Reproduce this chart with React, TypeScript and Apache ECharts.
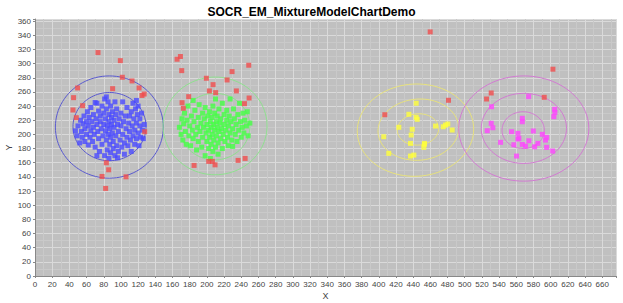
import React, { useEffect, useRef } from "react";
import * as echarts from "echarts";

const TITLE = "SOCR_EM_MixtureModelChartDemo";
const X_MAX = 676;
const Y_MAX = 363;

const blueData: number[][] = [
  [47,205],[49,198],[50,212],[52,188],[53,220],[54,204],[55,196],[56,215],[57,226],[58,208],[58,190],[60,200],[60,218],[61,232],[62,212],[62,185],[63,224],[64,196],[65,205],[65,238],[66,218],[67,190],[68,228],[68,210],[69,200],[70,245],[70,182],[71,222],[72,214],[72,170],[73,204],[74,233],[74,194],[75,176],[76,218],[76,226],[77,208],[78,186],[78,240],[79,198],[80,230],[80,214],[81,170],[81,250],[82,205],[82,222],[83,192],[83,236],[84,212],[84,178],[85,246],[85,200],[86,228],[86,218],[87,186],[87,208],[88,196],[88,240],[88,174],[89,224],[89,214],[90,202],[90,232],[91,180],[91,190],[92,220],[92,210],[93,246],[93,170],[94,228],[94,198],[95,184],[95,236],[96,214],[97,204],[97,176],[98,222],[99,192],[100,230],[100,212],[101,182],[102,246],[102,200],[103,218],[104,188],[104,172],[105,226],[106,208],[107,238],[107,196],[108,184],[109,216],[110,226],[110,204],[111,192],[112,232],[112,176],[113,212],[114,244],[114,198],[115,222],[116,186],[116,206],[117,236],[118,216],[118,194],[119,228],[120,202],[120,240],[121,184],[122,212],[122,222],[123,196],[124,230],[125,206],[126,194],[127,214],[83,253],[72,244],[118,248],[96,167],[86,166]
];

const greenData: number[][] = [
  [168,210],[170,200],[171,222],[172,192],[173,215],[174,230],[175,204],[176,186],[177,220],[178,240],[179,198],[180,212],[181,184],[182,226],[183,206],[184,248],[184,194],[185,218],[186,234],[187,200],[188,178],[189,210],[190,224],[190,190],[191,242],[192,204],[193,216],[194,182],[195,230],[195,196],[196,210],[197,222],[198,170],[198,238],[199,202],[200,190],[200,214],[201,226],[202,180],[202,206],[203,196],[203,232],[204,166],[204,218],[205,210],[205,186],[206,224],[206,200],[207,240],[207,176],[208,214],[208,192],[209,206],[209,230],[210,250],[210,182],[211,218],[211,198],[212,210],[212,226],[213,188],[213,172],[214,204],[214,236],[215,216],[216,194],[216,222],[217,208],[218,180],[218,244],[219,200],[220,228],[220,214],[221,190],[222,206],[223,234],[223,220],[224,196],[225,184],[225,212],[226,226],[227,250],[227,202],[228,218],[229,192],[230,208],[230,183],[231,236],[232,222],[233,200],[234,214],[235,190],[236,228],[237,206],[238,244],[239,218],[240,196],[241,210],[242,230],[243,202],[244,220],[246,212],[247,232],[248,198],[250,216]
];

const yellowData: number[][] = [
  [443.5,244],[435,228.4],[443.5,224.1],[444.7,221.3],[423.3,210],[438.9,207.2],[437.7,199.1],[405.8,196.7],[436.9,187.3],[453.2,187.3],[452.4,181.7],[411.6,173.2],[436.9,169.4],[440.8,170.8],[466,211.8],[475,210.8],[477.6,213.2],[480.3,214.7],[485.4,206.2],[453,186]
];

const magentaData: number[][] = [
  [574.3,253.3],[604.6,235.5],[603.7,225],[604.9,231],[531.2,239.1],[530.8,215.7],[532.7,209.4],[526.2,205.2],[567,222.7],[567,217.9],[554.5,203.8],[561.9,201.5],[579.8,204.8],[590.3,200.1],[595.3,195.8],[541.7,188.8],[557.2,185.4],[563,194.4],[574.6,191],[567,185.9],[570.8,183.5],[581.3,182.5],[585.1,187.3],[595.3,181.7],[602.3,176.5],[560.3,169.4],[561.9,193.4],[594,192]
];

const redData: number[][] = [
  [73.3,315.6],[99.3,304.2],[101.6,280.7],[112.9,275.5],[90.3,264.6],[121.1,265.6],[124.5,255],[127,257],[49.6,265.6],[44.9,251.9],[55.4,240.6],[44.2,234.5],[48.1,223.6],[127.6,203.8],
  [83,159.9],[85.7,150],[78,140.6],[105.9,140.1],[82.2,123.7],
  [185.1,156.2],[202.1,161.9],[206.4,161.9],[209.5,157],[236.3,163.3],[244.5,166.1],
  [165.3,306.2],[169.2,310],[170.7,290.1],[199.4,279.3],[207.2,270.3],[202.9,261.4],[210.2,259],[223.5,276.9],[229.3,288.7],[234.3,261.4],[248.7,297.7],[249.1,251.4],[243.7,243.4],[178.8,253.3],[171.1,244.8],[172.6,236.9],
  [459.8,344.8],[481.1,248.2],[407,227.8],[602.6,292.1],[530.8,258.5],[525.4,250],[592.5,252.4]
];

// ellipse contours: [cx, cy, rx, ry, angleDeg]
const blueEllipses: number[][] = [[86.5, 210.4, 62.8, 72.2, 0], [86.7, 211, 42.5, 48.2, 0]];
const greenEllipses: number[][] = [[209.5, 212, 60.5, 69, 0], [209, 211, 41, 47, 0]];
const yellowEllipses: number[][] = [[442.7, 206, 67.9, 65, 15], [446, 206.7, 47.2, 43, 15], [445.6, 207, 24.2, 22, 15]];
const magentaEllipses: number[][] = [[568.7, 208.3, 75.7, 74.3, 0], [568.8, 208.5, 49.6, 49.5, 0], [568, 206, 24.6, 26, 0]];

function contour(e: number[]): number[][] {
  const [cx, cy, rx, ry, ang] = e;
  const a = (ang * Math.PI) / 180;
  const pts: number[][] = [];
  for (let i = 0; i <= 96; i++) {
    const t = (i / 96) * Math.PI * 2;
    const ex = rx * Math.cos(t);
    const ey = ry * Math.sin(t);
    pts.push([cx + ex * Math.cos(a) - ey * Math.sin(a), cy + ex * Math.sin(a) + ey * Math.cos(a)]);
  }
  return pts;
}

function ellipseSeries(list: number[][], color: string) {
  return list.map((e) => ({
    type: "line",
    data: contour(e),
    showSymbol: false,
    symbol: "none",
    silent: true,
    lineStyle: { color, width: 1 },
    z: 1,
  }));
}

function scatter(data: number[][], color: string, z = 3) {
  return {
    type: "scatter",
    data,
    symbol: "rect",
    symbolSize: 5,
    itemStyle: { color },
    z,
  };
}

export default function App() {
  const ref = useRef<HTMLDivElement>(null);
  useEffect(() => {
    if (!ref.current) return;
    const chart = echarts.init(ref.current, null, { renderer: "svg" });
    const axisText = { color: "#444", fontSize: 8, fontFamily: "Liberation Sans, Arial, sans-serif" };
    chart.setOption({
      animation: false,
      backgroundColor: "#ffffff",
      title: {
        text: TITLE,
        left: "center",
        top: 1,
        textStyle: { fontSize: 12, fontWeight: "bold", color: "#000", fontFamily: "Liberation Sans, Arial, sans-serif" },
      },
      grid: {
        left: 35,
        right: 7,
        top: 19,
        bottom: 27,
        containLabel: false,
        outerBoundsMode: "none",
        show: true,
        backgroundColor: "#c0c0c0",
        borderWidth: 0,
      },
      xAxis: {
        type: "value",
        min: 0,
        max: X_MAX,
        interval: 20,
        name: "X",
        nameLocation: "middle",
        nameGap: 15,
        nameMoveOverlap: false,
        nameTextStyle: { ...axisText, fontSize: 9 },
        axisLine: { show: true, onZero: false, lineStyle: { color: "#888" } },
        axisTick: { show: true, length: 2, lineStyle: { color: "#888" } },
        axisLabel: { ...axisText, margin: 4, formatter: (v: number) => (v % 20 === 0 ? String(v) : "") },
        splitLine: { show: true, lineStyle: { color: "#dadada", width: 1 } },
        minorTick: { show: false, splitNumber: 2 },
        minorSplitLine: { show: true, lineStyle: { color: "#c9c9c9", width: 1 } },
      },
      yAxis: {
        type: "value",
        min: 0,
        max: Y_MAX,
        interval: 20,
        name: "Y",
        nameLocation: "middle",
        nameGap: 22,
        nameMoveOverlap: false,
        nameRotate: 90,
        nameTextStyle: { ...axisText, fontSize: 9 },
        axisLine: { show: true, onZero: false, lineStyle: { color: "#888" } },
        axisTick: { show: true, length: 2, lineStyle: { color: "#888" } },
        axisLabel: { ...axisText, margin: 4, formatter: (v: number) => (v % 20 === 0 ? String(v) : "") },
        splitLine: { show: true, lineStyle: { color: "#dadada", width: 1 } },
        minorTick: { show: false, splitNumber: 2 },
        minorSplitLine: { show: true, lineStyle: { color: "#c9c9c9", width: 1 } },
      },
      series: [
        ...ellipseSeries(blueEllipses, "#5a5ad0"),
        ...ellipseSeries(greenEllipses, "#8ee08e"),
        ...ellipseSeries(yellowEllipses, "#e8e27c"),
        ...ellipseSeries(magentaEllipses, "#d27ad2"),
        scatter(blueData, "#4a4aff"),
        scatter(greenData, "#44ff44"),
        scatter(yellowData, "#ffff3a"),
        scatter(magentaData, "#ff44ff"),
        scatter(redData, "#f04c4c", 4),
      ],
    });
    return () => chart.dispose();
  }, []);
  return <div ref={ref} style={{ width: 623, height: 303, position: "absolute", left: 0, top: 0 }} />;
}
